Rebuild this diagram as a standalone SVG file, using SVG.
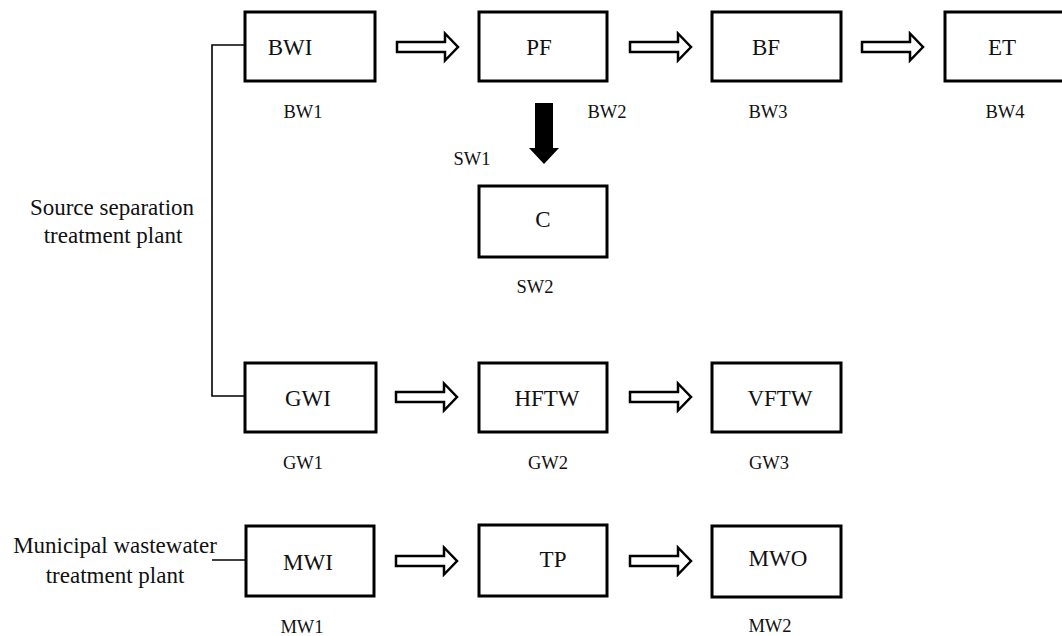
<svg xmlns="http://www.w3.org/2000/svg" width="1062" height="636" viewBox="0 0 1062 636">
<style>
.box{fill:#fff;stroke:#000;stroke-width:3}
.t{font-family:"Liberation Serif","Times New Roman",serif;font-size:23px;fill:#111;text-anchor:middle}
.l{font-family:"Liberation Serif","Times New Roman",serif;font-size:18.5px;fill:#111;text-anchor:middle}
.ha{fill:#fff;stroke:#000;stroke-width:2.5;stroke-linejoin:miter}
.ln{fill:none;stroke:#000;stroke-width:1.6}
</style>
<defs>
<polygon id="harrow" points="0,-5 48,-5 48,-13.5 61,0 48,13.5 48,5 0,5"/>
</defs>
<rect width="1062" height="636" fill="#fff"/>
<g id="connectors">
<path class="ln" d="M245,45 H212 V396 H245"/>
<path class="ln" d="M212,560 H246"/>
<use href="#harrow" class="ha" x="397" y="47"/>
<use href="#harrow" class="ha" x="630" y="47"/>
<use href="#harrow" class="ha" x="862" y="47"/>
<use href="#harrow" class="ha" x="396" y="397"/>
<use href="#harrow" class="ha" x="630" y="397"/>
<use href="#harrow" class="ha" x="396" y="561"/>
<use href="#harrow" class="ha" x="630" y="561"/>
<polygon points="535,103 553,103 553,148 559,148 544,164 529,148 535,148" fill="#000"/>
</g>
<g id="label-source"><text class="t" x="112" y="215">Source separation</text><text class="t" x="113" y="243">treatment plant</text></g>
<g id="label-municipal"><text class="t" x="115" y="553">Municipal wastewater</text><text class="t" x="115" y="583">treatment plant</text></g>
<g id="BWI"><rect class="box" x="245" y="12" width="130" height="69"/><text class="t" x="290" y="55">BWI</text><text class="l" x="303" y="118">BW1</text></g>
<g id="PF"><rect class="box" x="479" y="12" width="128" height="69"/><text class="t" x="539" y="55">PF</text><text class="l" x="607" y="118">BW2</text></g>
<g id="BF"><rect class="box" x="712" y="12" width="129" height="69"/><text class="t" x="766" y="55">BF</text><text class="l" x="768" y="118">BW3</text></g>
<g id="ET"><rect class="box" x="945" y="12" width="130" height="69"/><text class="t" x="1002" y="55">ET</text><text class="l" x="1005" y="118">BW4</text></g>
<g id="C"><rect class="box" x="479" y="186" width="128" height="71"/><text class="t" x="543" y="227">C</text><text class="l" x="472" y="165">SW1</text><text class="l" x="535" y="293">SW2</text></g>
<g id="GWI"><rect class="box" x="245" y="363" width="131" height="69"/><text class="t" x="308" y="406">GWI</text><text class="l" x="303" y="469">GW1</text></g>
<g id="HFTW"><rect class="box" x="479" y="363" width="128" height="69"/><text class="t" x="547" y="406">HFTW</text><text class="l" x="548" y="469">GW2</text></g>
<g id="VFTW"><rect class="box" x="712" y="363" width="129" height="69"/><text class="t" x="780" y="406">VFTW</text><text class="l" x="769" y="469">GW3</text></g>
<g id="MWI"><rect class="box" x="246" y="526" width="128" height="70"/><text class="t" x="308" y="570">MWI</text><text class="l" x="302" y="633">MW1</text></g>
<g id="TP"><rect class="box" x="479" y="525" width="128" height="71"/><text class="t" x="553" y="567">TP</text></g>
<g id="MWO"><rect class="box" x="712" y="526" width="129" height="71"/><text class="t" x="778" y="566">MWO</text><text class="l" x="770" y="632">MW2</text></g>
</svg>
